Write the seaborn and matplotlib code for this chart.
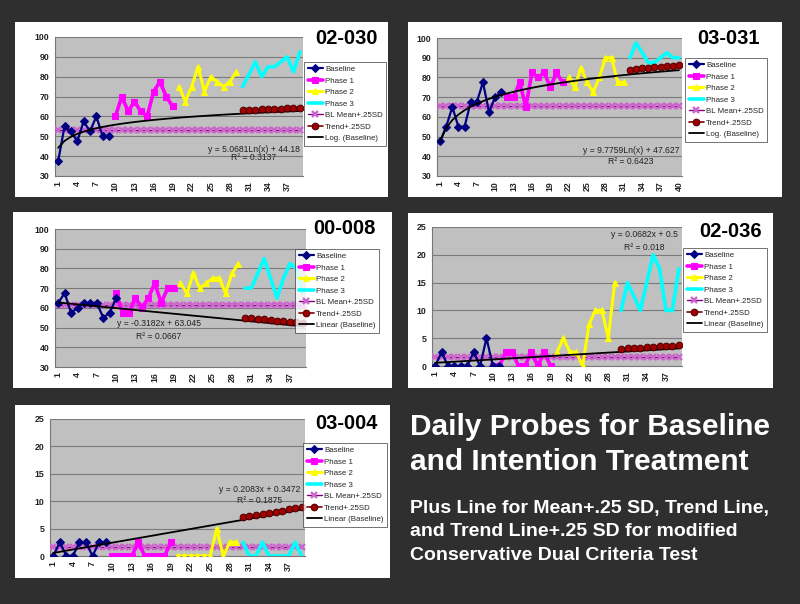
import numpy as np
import matplotlib
matplotlib.use("Agg")
import matplotlib.pyplot as plt
from matplotlib.patches import Rectangle
import seaborn as sns

sns.set_style("white")
plt.rcParams["font.family"] = ["Liberation Sans", "DejaVu Sans"]

# ---- data ----
# panel 02-030
p1_baseline = [37.5, 55, 52.5, 47.5, 57.5, 52.5, 60, 50, 50]
p1_phase1 = [60, 70, 62.5, 67.5, 62.5, 60, 72.5, 77.5, 70, 65]
p1_phase2 = [75, 67.5, 75, 85, 72.5, 80, 77.5, 75, 77.5, 82.5]
p1_phase3 = [75, 81, 87.5, 80, 85, 85, 87.5, 90, 82.5, 92.5]
p1_trend_sd = [63.0, 63.2, 63.3, 63.5, 63.6, 63.8, 63.9, 64.1, 64.2, 64.4]
p1_starts = [1, 10, 20, 30, 30]
p1_mean_sd = 53.0
p1_fit = ("log", 5.0681, 44.18)
p1_days = 39

# panel 03-031
p2_baseline = [47.5, 55, 65, 55, 55, 67.5, 67.5, 77.5, 62.5, 70, 72.5]
p2_phase1 = [70, 70, 77.5, 65, 82.5, 80, 82.5, 75, 82.5, 77.5]
p2_phase2 = [80, 75, 85, 77.5, 72.5, 80, 90, 90, 77.5, 77.5]
p2_phase3 = [90, 97.5, 92.5, 87.5, 87.5, 90, 92.5, 90, 90]
p2_trend_sd = [84.0, 84.3, 84.6, 84.9, 85.1, 85.4, 85.6, 85.8, 86.1]
p2_starts = [1, 12, 22, 32, 32]
p2_mean_sd = 65.4
p2_fit = ("log", 9.7759, 47.627)
p2_days = 40

# panel 00-008
p3_baseline = [62.5, 67.5, 57.5, 60, 62.5, 62.5, 62.5, 55, 57.5, 65]
p3_phase1 = [67.5, 57.5, 57.5, 65, 60, 65, 72.5, 62.5, 70, 70]
p3_phase2 = [72.5, 67.5, 77.5, 70, 72.5, 75, 75, 67.5, 77.5, 82.5]
p3_phase3 = [70, 70, 77.5, 85, 75, 65, 75, 82.5, 80, 67.5]
p3_trend_sd = [55.1, 54.8, 54.5, 54.2, 53.8, 53.5, 53.2, 52.9, 52.6, 52.2]
p3_starts = [1, 10, 20, 30, 30]
p3_mean_sd = 61.7
p3_fit = ("linear", -0.3182, 63.045)
p3_days = 39

# panel 02-036
p4_baseline = [0, 2.5, 0, 0, 0, 0, 2.5, 0, 5, 0, 0]
p4_phase1 = [0, 0, 2.5, 2.5, 0, 0, 2.5, 0, 2.5, 0]
p4_phase2 = [2.5, 5, 2.5, 2.5, 0, 7.5, 10, 10, 5, 15]
p4_phase3 = [10, 15, 12.5, 10, 15, 20, 17.5, 10, 10, 17.5]
p4_trend_sd = [3.1, 3.17, 3.24, 3.3, 3.37, 3.44, 3.51, 3.58, 3.64, 3.71]
p4_starts = [1, 10, 20, 30, 30]
p4_mean_sd = 1.6
p4_fit = ("linear", 0.0682, 0.5)
p4_days = 39

# panel 03-004
p5_baseline = [0, 2.5, 0, 0, 2.5, 2.5, 0, 2.5, 2.5]
p5_phase1 = [0, 0, 0, 0, 2.5, 0, 0, 0, 0, 2.5]
p5_phase2 = [0, 0, 0, 0, 0, 0, 5, 0, 2.5, 2.5]
p5_phase3 = [2.5, 0, 0, 2.5, 0, 0, 0, 0, 2.5, 0]
p5_trend_sd = [7.05, 7.26, 7.47, 7.68, 7.88, 8.09, 8.30, 8.51, 8.72, 8.92]
p5_starts = [1, 10, 20, 30, 30]
p5_mean_sd = 1.72
p5_fit = ("linear", 0.2083, 0.3472)
p5_days = 39

ids = ["02-030", "03-031", "00-008", "02-036", "03-004"]
fit_text = [
    ("y = 5.0681Ln(x) + 44.18", "R² = 0.3137"),
    ("y = 9.7759Ln(x) + 47.627", "R² = 0.6423"),
    ("y = -0.3182x + 63.045", "R² = 0.0667"),
    ("y = 0.0682x + 0.5", "R² = 0.018"),
    ("y = 0.2083x + 0.3472", "R² = 0.1875"),
]

# ---- layout (pixels in an 800 x 604 canvas) ----
W, H = 800, 604
white_boxes = [(15, 22, 388, 197), (408, 22, 782, 197), (13, 212, 392, 388),
               (408, 213, 773, 388), (15, 405, 390, 578)]
plot_boxes = [(55, 37, 303, 176), (437, 38, 682, 176), (55, 229, 306, 367),
              (432, 227, 682, 366), (50, 419, 305, 556)]
legend_boxes = [(304, 62), (685, 58), (295, 249), (683, 248), (303, 443)]
title_pos = [(346, 38.5), (729, 38.5), (344, 228.5), (731, 231.5), (346, 423.5)]
text_pos = [(31.8, 43.3, 39.2), (32.2, 43.1, 37.2), (16.6, 52.0, 45.3),
            (33.6, 23.6, 21.4), (32.5, 12.1, 10.2)]
ylims = [(30, 100, 10), (30, 100, 10), (30, 100, 10), (0, 25, 5), (0, 25, 5)]

panels = [
    (p1_baseline, p1_phase1, p1_phase2, p1_phase3, p1_trend_sd, p1_starts, p1_mean_sd, p1_fit, p1_days),
    (p2_baseline, p2_phase1, p2_phase2, p2_phase3, p2_trend_sd, p2_starts, p2_mean_sd, p2_fit, p2_days),
    (p3_baseline, p3_phase1, p3_phase2, p3_phase3, p3_trend_sd, p3_starts, p3_mean_sd, p3_fit, p3_days),
    (p4_baseline, p4_phase1, p4_phase2, p4_phase3, p4_trend_sd, p4_starts, p4_mean_sd, p4_fit, p4_days),
    (p5_baseline, p5_phase1, p5_phase2, p5_phase3, p5_trend_sd, p5_starts, p5_mean_sd, p5_fit, p5_days),
]

fig = plt.figure(figsize=(8, 6.04), dpi=100)
fig.patch.set_facecolor("#2f2f2f")


def fx(px):
    return px / W


def fy(py):
    return 1 - py / H


def xs(start, vals):
    return np.arange(start, start + len(vals))


for i, (base, ph1, ph2, ph3, tsd, starts, mean_sd, fit, ndays) in enumerate(panels):
    x0, y0, x1, y1 = white_boxes[i]
    fig.add_artist(Rectangle((fx(x0), fy(y1)), fx(x1 - x0), (y1 - y0) / H,
                             transform=fig.transFigure, facecolor="white",
                             edgecolor="none", zorder=0))

    l, t, r, b = plot_boxes[i]
    ax = fig.add_axes([fx(l), fy(b), fx(r - l), (b - t) / H])
    ax.set_facecolor("#c0c0c0")

    days = np.arange(1, ndays + 1)

    # trend line through the baseline
    kind, a, c = fit
    if kind == "log":
        trend = a * np.log(days) + c
        tlabel = "Log. (Baseline)"
    else:
        trend = a * days + c
        tlabel = "Linear (Baseline)"

    # BL mean + .25SD
    sns.lineplot(x=days, y=np.full(ndays, mean_sd), ax=ax, color="#800080", lw=1.0,
                 marker="x", markersize=4.8, markeredgewidth=1.7,
                 markeredgecolor="#cc66cc", label="BL Mean+.25SD", zorder=3)

    sns.lineplot(x=xs(starts[0], base), y=base, ax=ax, color="#000080", lw=1.6,
                 marker="D", markersize=3.6, markeredgecolor="#000080",
                 label="Baseline", zorder=5)
    sns.lineplot(x=xs(starts[1], ph1), y=ph1, ax=ax, color="#ff00ff", lw=2.6,
                 marker="s", markersize=5, markeredgecolor="#ff00ff",
                 label="Phase 1", zorder=4)
    sns.lineplot(x=xs(starts[2], ph2), y=ph2, ax=ax, color="#ffff00", lw=2.2,
                 marker="^", markersize=5, markeredgecolor="#ffff00",
                 label="Phase 2", zorder=4)
    sns.lineplot(x=xs(starts[3], ph3), y=ph3, ax=ax, color="#00ffff", lw=2.6,
                 label="Phase 3", zorder=4)
    sns.lineplot(x=xs(starts[4], tsd), y=tsd, ax=ax, color="#800000", lw=1.2,
                 marker="o", markersize=4.8, markerfacecolor="#a00000",
                 markeredgecolor="#500000", label="Trend+.25SD", zorder=6)
    sns.lineplot(x=days, y=trend, ax=ax, color="black", lw=1.3, label=tlabel, zorder=5)

    ymin, ymax, ystep = ylims[i]
    ax.set_ylim(ymin, ymax)
    ax.set_xlim(0.5, ndays + 0.5)
    ax.set_yticks(np.arange(ymin, ymax + 0.1, ystep))
    ax.set_xticks(np.arange(1, ndays + 1, 3))
    ax.set_xticklabels([str(v) for v in np.arange(1, ndays + 1, 3)], rotation=90)
    ax.tick_params(axis="both", labelsize=6.3, length=2, width=0.6, pad=2,
                   colors="#222222", direction="out")
    for lab in ax.get_xticklabels() + ax.get_yticklabels():
        lab.set_fontweight("bold")
    ax.grid(axis="y", color="#7a7a7a", lw=0.8)
    ax.set_axisbelow(True)
    for s in ["top", "right"]:
        ax.spines[s].set_visible(False)
    for s in ["left", "bottom"]:
        ax.spines[s].set_color("#777777")
        ax.spines[s].set_linewidth(0.8)
    ax.set_xlabel("")
    ax.set_ylabel("")

    tx, ty1, ty2 = text_pos[i]
    ax.text(tx, ty1, fit_text[i][0], fontsize=6.2, color="#222222", ha="center", va="center")
    ax.text(tx, ty2, fit_text[i][1], fontsize=6.2, color="#222222", ha="center", va="center")

    handles, labels = ax.get_legend_handles_labels()
    order = ["Baseline", "Phase 1", "Phase 2", "Phase 3", "BL Mean+.25SD", "Trend+.25SD", tlabel]
    hmap = dict(zip(labels, handles))
    lx, ly = legend_boxes[i]
    leg = ax.legend([hmap[k] for k in order], order, loc="upper left",
                    bbox_to_anchor=(fx(lx), fy(ly)), bbox_transform=fig.transFigure,
                    fontsize=5.7, frameon=True, fancybox=False, edgecolor="#333333",
                    handlelength=1.9, handletextpad=0.3, labelspacing=0.5,
                    borderpad=0.45, borderaxespad=0)
    leg.get_frame().set_linewidth(0.6)
    leg.set_zorder(10)

    px, py = title_pos[i]
    fig.text(fx(px), fy(py), ids[i], fontsize=14.5, fontweight="bold",
             color="black", ha="center", va="center")

# ---- text block ----
fig.text(fx(410), fy(435), "Daily Probes for Baseline", fontsize=21.5,
         fontweight="bold", color="white", ha="left", va="baseline")
fig.text(fx(410), fy(470), "and Intention Treatment", fontsize=21.5,
         fontweight="bold", color="white", ha="left", va="baseline")
sub_lines = ["Plus Line for Mean+.25 SD, Trend Line,",
             "and Trend Line+.25 SD for modified",
             "Conservative Dual Criteria Test"]
for k, line in enumerate(sub_lines):
    fig.text(fx(410), fy(513 + 23.5 * k), line, fontsize=14, fontweight="bold",
             color="white", ha="left", va="baseline")

fig.savefig("out.png", dpi=100, facecolor=fig.get_facecolor())
